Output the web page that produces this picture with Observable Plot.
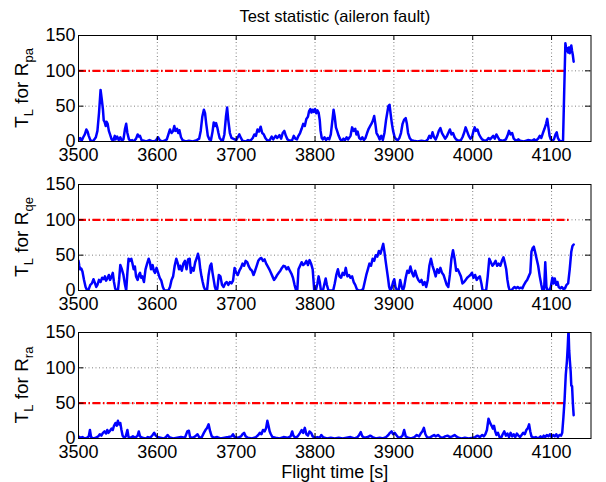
<!DOCTYPE html>
<html><head><meta charset="utf-8">
<script src="https://cdn.jsdelivr.net/npm/d3@7"></script>
<script src="https://cdn.jsdelivr.net/npm/@observablehq/plot@0.6"></script>
<style>
body{margin:0;background:#fff;}
#wrap{position:relative;width:606px;height:482px;overflow:hidden;}
#wrap svg{position:absolute;left:0;}
</style></head><body><div id="wrap"></div><script>
const titleText = "Test statistic (aileron fault)";
const xLabelText = "Flight time [s]";
const xTicks = [3500,3600,3700,3800,3900,4000,4100];
const yTicks = [0,50,100,150];
const panelSubs = ["pa","qe","ra"];
const thresholds = [100,100,50];
const thresholdEnds = [4120,4123,4120];

const seriesPa = [[3500,2],[3502,5],[3504,1],[3506,6],[3508,10],[3510,17],[3511.5,14],[3513,8],[3515,2],[3518,0],[3520,3],[3522,6],[3524,15],[3526,40],[3528,73],[3529.5,60],[3531,45],[3532,30],[3533,28],[3534.5,22],[3535.5,28],[3537,25],[3538.5,15],[3540,10],[3542,3],[3544,1],[3546,8],[3547,3],[3549,7],[3551,2],[3553,6],[3555,1],[3557,3],[3559,18],[3560.5,25],[3562,12],[3564,3],[3566,1],[3568,2],[3570,0],[3573,4],[3575,10],[3576.5,7],[3578,8],[3580,2],[3583,1],[3586,0],[3590,2],[3594,0],[3598,1],[3601,6],[3603,2],[3606,0],[3609,1],[3612,3],[3614,10],[3616,17],[3618,12],[3620,15],[3621.5,22],[3623,15],[3625,18],[3626.5,12],[3628,16],[3630,6],[3632,2],[3636,0],[3640,1],[3645,0],[3650,2],[3653,4],[3655,15],[3657,35],[3659,45],[3660.5,40],[3662,25],[3664,8],[3666,3],[3668,2],[3670,14],[3671.5,27],[3673,22],[3674.5,26],[3676,20],[3677.5,12],[3679,5],[3681,2],[3683,1],[3685,10],[3687,35],[3688.5,48],[3690,30],[3692,12],[3694,5],[3696,4],[3698,3],[3700,2],[3702,6],[3704,10],[3706,5],[3708,1],[3712,0],[3715,2],[3718,1],[3721,5],[3723,10],[3725,8],[3727,17],[3729,14],[3731,21],[3733,12],[3735,10],[3737,5],[3739,2],[3742,1],[3745,7],[3747,3],[3750,8],[3752,5],[3755,9],[3757,4],[3759,12],[3761,15],[3763,8],[3765,3],[3768,1],[3771,2],[3773,8],[3775,4],[3777,3],[3779,8],[3781,12],[3783,18],[3785,25],[3787,22],[3789,32],[3791,35],[3792.5,43],[3794,46],[3795.5,41],[3797,45],[3798.5,42],[3800,46],[3801.5,40],[3803,44],[3804.5,41],[3806,30],[3807,15],[3808.5,5],[3810,3],[3812,6],[3814,2],[3816,5],[3818,3],[3820,10],[3822,30],[3823.5,45],[3825,35],[3826.5,20],[3828,15],[3830,8],[3832,3],[3834,1],[3836,4],[3838,2],[3840,6],[3842,3],[3845,8],[3847,20],[3849,15],[3851,18],[3852.5,10],[3854,14],[3856,5],[3858,3],[3860,6],[3862,2],[3864,5],[3866,12],[3868,18],[3870,22],[3872,26],[3873.5,30],[3875,36],[3876.5,25],[3878,12],[3880,8],[3882,3],[3884,8],[3886,2],[3888,12],[3890,30],[3891.5,40],[3893,50],[3894.5,52],[3896,38],[3897.5,25],[3899,15],[3901,6],[3903,3],[3905,2],[3907,5],[3909,12],[3911,25],[3913,31],[3915,33],[3916.5,25],[3918,12],[3920,5],[3922,2],[3925,1],[3930,0],[3935,1],[3940,0],[3943,3],[3945,8],[3947,5],[3949,13],[3951,6],[3953,3],[3955,8],[3957,15],[3959,19],[3961,12],[3963,8],[3965,4],[3967,7],[3969,12],[3971,17],[3973,10],[3975,12],[3977,6],[3979,3],[3982,1],[3985,2],[3987,6],[3989,12],[3991,20],[3993,14],[3995,8],[3997,4],[3999,6],[4001,15],[4002.5,20],[4004,15],[4006,17],[4008,10],[4010,6],[4012,3],[4015,1],[4018,2],[4020,5],[4022,3],[4026,8],[4028,4],[4030,10],[4032,6],[4034,2],[4038,1],[4042,3],[4044,8],[4046,15],[4048,10],[4050,12],[4052,4],[4055,1],[4058,3],[4060,1],[4065,0],[4070,2],[4075,1],[4078,3],[4080,1],[4083,4],[4085,8],[4087,5],[4089,12],[4091,18],[4093,25],[4094.5,32],[4096,20],[4097.5,8],[4099,3],[4101,1],[4103,3],[4105,10],[4106.5,13],[4108,5],[4110,1],[4113,0],[4114.5,0],[4116,70],[4117.5,139],[4119,128],[4120,132],[4121,126],[4122,133],[4123,125],[4124,130],[4125,136],[4126,128],[4127,122],[4128,113]];

const seriesQe = [[3500,42],[3501,35],[3502,30],[3503.5,31],[3505,27],[3507,15],[3509,5],[3511,0],[3513,2],[3515,8],[3517,10],[3519,16],[3521,10],[3522.5,5],[3524,8],[3526,15],[3528,12],[3530,18],[3532,16],[3533.5,20],[3535,14],[3537,18],[3538.5,22],[3540,15],[3542,20],[3543.5,25],[3545,12],[3546.5,3],[3548,0],[3550,0],[3551.5,15],[3553,36],[3555,30],[3557,22],[3559,8],[3560.5,0],[3562,25],[3563.5,45],[3565,42],[3567,45],[3568.5,38],[3570,30],[3571.5,34],[3573,20],[3575,15],[3576.5,22],[3578,25],[3579.5,18],[3581,20],[3583,12],[3585,30],[3587,38],[3589,45],[3590.5,40],[3592,30],[3594,36],[3595.5,28],[3597,25],[3599,32],[3601,25],[3603,18],[3605,14],[3607,5],[3609,0],[3612,0],[3614,0],[3616,5],[3618,15],[3620,20],[3622,35],[3624,45],[3626,38],[3627.5,30],[3629,35],[3631,28],[3633,38],[3635,42],[3637,30],[3639,44],[3641,45],[3642.5,25],[3644,32],[3646,28],[3648,40],[3650,46],[3651.5,52],[3653,45],[3654.5,30],[3656,20],[3657.5,12],[3659,5],[3661,0],[3663,0],[3665,22],[3667,35],[3668.5,38],[3670,25],[3671.5,15],[3673,5],[3674.5,0],[3676,2],[3678,22],[3680,20],[3682,8],[3684,5],[3686,10],[3688,12],[3690,8],[3692,12],[3694,10],[3696,14],[3698,32],[3700,25],[3702,22],[3704,28],[3706,32],[3708,38],[3710,35],[3712,42],[3714,40],[3716,34],[3718,30],[3720,28],[3722,22],[3724,28],[3726,35],[3728,42],[3730,45],[3732,46],[3734,42],[3736,44],[3738,38],[3740,34],[3742,30],[3744,25],[3746,20],[3748,15],[3750,18],[3752,22],[3754,25],[3756,28],[3758,32],[3760,35],[3762,34],[3764,30],[3766,33],[3768,28],[3770,24],[3772,18],[3774,8],[3776,0],[3777.5,0],[3779,30],[3781,35],[3783,40],[3785,36],[3787,38],[3789,42],[3791,36],[3793,43],[3795,38],[3797,30],[3798,15],[3799,0],[3801,0],[3803,10],[3804.5,20],[3806,12],[3807.5,0],[3810,0],[3812,10],[3813.5,17],[3815,8],[3817,0],[3820,0],[3823,0],[3825,10],[3827,22],[3829,30],[3831,20],[3833,18],[3835,25],[3837,22],[3839,32],[3841,20],[3843,22],[3845,18],[3847,20],[3849,12],[3851,8],[3853,2],[3855,0],[3858,0],[3861,2],[3863,12],[3865,22],[3867,30],[3869,38],[3871,35],[3873,45],[3875,42],[3877,50],[3879,48],[3881,56],[3883,52],[3885,60],[3886.5,66],[3888,55],[3889.5,42],[3891,30],[3892.5,18],[3894,5],[3895.5,0],[3897,3],[3899,12],[3900.5,16],[3902,5],[3904,0],[3906,0],[3908,15],[3910,5],[3911.5,0],[3913,5],[3915,18],[3917,28],[3919,25],[3921,34],[3923,25],[3925,20],[3927,28],[3929,20],[3931,15],[3933,12],[3935,15],[3937,8],[3939,12],[3941,5],[3943,15],[3945,35],[3947,45],[3949,35],[3951,28],[3953,20],[3955,30],[3957,25],[3959,32],[3961,25],[3963,22],[3965,15],[3967,8],[3969,5],[3971,22],[3973,45],[3975,57],[3977,45],[3979,28],[3981,30],[3983,25],[3985,20],[3987,10],[3989,12],[3991,15],[3993,18],[3995,20],[3997,22],[3999,25],[4001,18],[4003,22],[4005,15],[4007,18],[4009,20],[4011,10],[4012.5,0],[4015,0],[4017,0],[4019,20],[4021,45],[4023,40],[4025,35],[4027,38],[4029,42],[4031,35],[4033,38],[4035,35],[4037,42],[4039,47],[4041,38],[4042.5,30],[4044,15],[4045.5,5],[4047,0],[4049,0],[4051,3],[4053,5],[4055,3],[4057,5],[4059,3],[4061,4],[4063,3],[4065,8],[4067,12],[4069,15],[4071,20],[4073,25],[4074.5,55],[4076,60],[4077.5,62],[4079,55],[4081,45],[4083,35],[4085,20],[4087,8],[4088.5,0],[4090.5,0],[4092,40],[4093.5,5],[4095,0],[4097,0],[4099,5],[4101,18],[4102.5,10],[4104,17],[4106,8],[4107.5,12],[4109,5],[4111,3],[4113,5],[4115,2],[4117,3],[4119,8],[4121,10],[4123,30],[4125,55],[4126.5,63],[4128,65]];

const seriesRa = [[3500,3],[3502,1],[3505,2],[3508,0],[3511,1],[3513,3],[3514.5,12],[3516,2],[3519,0],[3522,1],[3525,3],[3527,6],[3529,4],[3531,8],[3533,10],[3535,7],[3536.5,12],[3538,8],[3540,11],[3542,14],[3543.5,12],[3545,18],[3547,22],[3548.5,18],[3550,25],[3551.5,20],[3553,22],[3554.5,12],[3556,4],[3558,1],[3560,3],[3562,12],[3563.5,2],[3566,1],[3569,3],[3572,1],[3575,4],[3576.5,10],[3578,3],[3581,1],[3585,0],[3588,2],[3591,1],[3594,5],[3596,8],[3598,4],[3600,2],[3604,1],[3608,0],[3611,2],[3613,5],[3615,2],[3620,0],[3625,1],[3630,2],[3635,1],[3638,10],[3640,11],[3641.5,2],[3645,1],[3648,3],[3651,6],[3653,2],[3656,1],[3659,8],[3661,12],[3663,15],[3665,20],[3667,10],[3669,3],[3672,1],[3676,2],[3680,0],[3685,1],[3690,2],[3694,3],[3696,6],[3698,2],[3702,1],[3706,3],[3708,6],[3710,8],[3712,3],[3715,1],[3720,0],[3725,2],[3728,5],[3730,8],[3732,6],[3734,12],[3736,10],[3738,15],[3739.5,25],[3741,18],[3742.5,10],[3744,6],[3746,2],[3750,1],[3755,0],[3760,2],[3765,1],[3769,3],[3771,10],[3772.5,4],[3775,1],[3778,3],[3781,8],[3783,12],[3785,8],[3787,15],[3789,6],[3791,4],[3793,10],[3795,8],[3797,3],[3800,1],[3803,2],[3806,1],[3808,5],[3810,2],[3815,0],[3820,1],[3825,0],[3830,1],[3835,0],[3840,1],[3845,2],[3850,0],[3854,2],[3856,5],[3858,9],[3860,3],[3863,1],[3867,2],[3870,4],[3873,2],[3877,0],[3882,1],[3886,0],[3890,2],[3893,5],[3895,8],[3897,10],[3899,6],[3901,8],[3903,5],[3905,2],[3908,1],[3911,4],[3913,12],[3915,3],[3918,1],[3922,0],[3926,2],[3929,5],[3932,3],[3934,7],[3936,10],[3938,15],[3940,6],[3942,2],[3945,1],[3948,3],[3951,5],[3953,3],[3956,5],[3959,2],[3962,1],[3965,3],[3968,4],[3971,2],[3974,3],[3977,5],[3979,3],[3982,1],[3986,0],[3990,1],[3995,0],[4000,1],[4003,2],[4006,4],[4009,2],[4012,5],[4014,3],[4016,6],[4018,12],[4020,28],[4022,22],[4024,18],[4025.5,14],[4027,18],[4028.5,10],[4030,5],[4032,8],[4034,2],[4036,1],[4038,6],[4040,10],[4042,4],[4044,7],[4046,2],[4048,8],[4050,3],[4052,6],[4054,2],[4056,7],[4058,4],[4060,2],[4062,5],[4064,8],[4066,6],[4068,12],[4070,15],[4071.5,20],[4073,10],[4074.5,3],[4077,1],[4080,2],[4083,0],[4086,3],[4088,1],[4090,4],[4092,2],[4094,5],[4096,3],[4098,6],[4100,2],[4102,5],[4104,3],[4106,6],[4108,2],[4110,5],[4112,4],[4113.5,8],[4115,30],[4116.5,55],[4118,90],[4119.5,110],[4120.5,130],[4121.5,155],[4122.3,125],[4123.2,110],[4124.2,95],[4125,75],[4126,74],[4127,50],[4128,33]];

const allSeries = [seriesPa, seriesQe, seriesRa];
const FONT = "'Liberation Sans', Arial, Helvetica, sans-serif";
const panelTops = [0, 149, 297];
const wrap = document.getElementById("wrap");

allSeries.forEach((series, i) => {
  const data = series.map(([t, v]) => ({t, v}));
  const last = i === 2;
  const height = last ? 185 : 172;
  const innerX = xTicks.slice(1);
  const innerY = yTicks.slice(1, -1);
  const marks = [
    Plot.gridX(innerX, {stroke: "#000", strokeOpacity: 0.5, strokeDasharray: "1,2.5"}),
    Plot.gridY(innerY, {stroke: "#000", strokeOpacity: 0.5, strokeDasharray: "1,2.5"}),
    Plot.ruleY([thresholds[i]], {x1: 3500, x2: thresholdEnds[i], stroke: "#ff0000", strokeWidth: 2.2, strokeDasharray: "8,2.5,1.5,2.5"}),
    Plot.line(data, {x: "t", y: "v", stroke: "#0000ff", strokeWidth: 2.5, clip: true}),
    Plot.tickX(innerX, {x: d => d, insetTop: 101, stroke: "#000"}),
    Plot.tickX(innerX, {x: d => d, insetBottom: 101, stroke: "#000"}),
    Plot.tickY(innerY, {y: d => d, insetRight: 507, stroke: "#000"}),
    Plot.tickY(innerY, {y: d => d, insetLeft: 507, stroke: "#000"}),
    Plot.frame({stroke: "#000", strokeWidth: 1}),
    Plot.axisX(xTicks, {anchor: "bottom", tickSize: 0, tickPadding: 7, tickFormat: "d", label: null, fontSize: 18}),
    Plot.axisY(yTicks, {anchor: "left", tickSize: 0, tickPadding: 3, tickFormat: "d", label: null, fontSize: 18})
  ];
  if (i === 0) {
    marks.push(Plot.text([titleText], {frameAnchor: "top", lineAnchor: "bottom", dy: -14, fontSize: 16.5, text: d => d}));
  }
  if (last) {
    marks.push(Plot.text([xLabelText], {frameAnchor: "bottom", lineAnchor: "top", dy: 27, fontSize: 18, text: d => d}));
  }
  const svg = Plot.plot({
    width: 606, height,
    marginLeft: 78, marginRight: 15.5, marginTop: 35, marginBottom: height - 35 - 106,
    style: {fontFamily: FONT, fontSize: "18px", background: "transparent", color: "#000"},
    x: {domain: [3500, 4150]},
    y: {domain: [0, 150]},
    marks
  });
  svg.style.position = "absolute";
  svg.style.top = panelTops[i] + "px";
  svg.style.left = "0px";
  const lab = d3.select(svg).append("text")
    .attr("transform", "translate(28,88) rotate(-90)")
    .attr("text-anchor", "middle")
    .attr("font-size", 19)
    .attr("fill", "#000");
  lab.append("tspan").text("T");
  lab.append("tspan").attr("dy", 5).attr("font-size", 13).text("L");
  lab.append("tspan").attr("dy", -5).text(" for R");
  lab.append("tspan").attr("dy", 5).attr("font-size", 13).text(panelSubs[i]);
  wrap.appendChild(svg);
});
</script></body></html>
